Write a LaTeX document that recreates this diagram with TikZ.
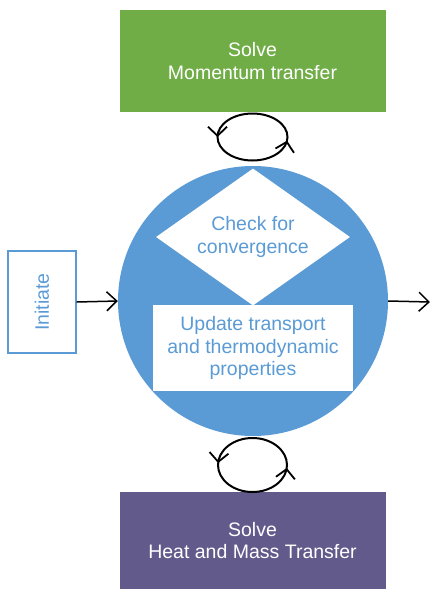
\documentclass[tikz,border=0pt]{standalone}
\usepackage{fontspec}
\setmainfont{Liberation Sans}
\usetikzlibrary{shapes.geometric,arrows.meta,decorations.markings}
\definecolor{mgreen}{HTML}{70AD47}
\definecolor{mblue}{HTML}{5B9BD5}
\definecolor{mpurple}{HTML}{635A8C}
\tikzset{
  x=1pt,y=1pt,
  txt/.style={font=\fontsize{19.5}{22.5}\selectfont, align=center},
  solvebox/.style={txt, text=white, minimum width=266, inner sep=0pt},
  loopline/.style={line width=2pt},
  barb/.tip={Straight Barb[length=9pt,width=19pt,line width=1.8pt]},
  flow/.style={line width=1.5pt, -{Straight Barb[length=10pt,width=19pt,line width=1.5pt]}},
}
\begin{document}
\begin{tikzpicture}
\useasboundingbox (0,0) rectangle (430,-590);
% top green box
\node[solvebox, fill=mgreen, minimum height=102] (top) at (252.5,-61) {Solve\\Momentum transfer};
% bottom purple box
\node[solvebox, fill=mpurple, minimum height=97] (bot) at (252.5,-540.5) {Solve\\Heat and Mass Transfer};
% big circle
\node[circle, fill=mblue, minimum size=270, inner sep=0pt] (circ) at (253,-301) {};
% diamond
\node[diamond, fill=white, minimum width=194, minimum height=137, inner sep=0pt] (chk) at (253,-237) {};
\node[txt, text=mblue] (chktxt) at (253,-237) {Check for\\convergence};
% update rect
\node[rectangle, fill=white, minimum width=200, minimum height=86, inner sep=0pt, txt, text=mblue] (upd) at (253,-348) {Update transport\\and thermodynamic\\properties};
% initiate
\node[draw=mblue, line width=1.2pt, minimum width=68, minimum height=102, inner sep=0pt] (ini) at (42,-302) {};
\node[txt, text=mblue, rotate=90] (initxt) at (42,-302) {Initiate};
% arrows
\coordinate (outend) at (430,-302);
\draw[flow] (ini.east) -- (circ.west);
\draw[flow] (circ.east) -- (outend);
% loops
\coordinate (lt) at (252.5,-137);
\coordinate (lb) at (252.5,-465);
\draw[loopline, postaction={decorate}, decoration={markings,
  mark=at position 0.5 with {\arrow{barb}},
  mark=at position 0.98 with {\arrow{barb}}}]
  (lt) ellipse [x radius=35, y radius=23.5];
\draw[loopline, postaction={decorate}, decoration={markings,
  mark=at position 0.49 with {\arrow{barb}},
  mark=at position 0.985 with {\arrow{barb}}}]
  (lb) ellipse [x radius=34.5, y radius=27];
\end{tikzpicture}
\end{document}
